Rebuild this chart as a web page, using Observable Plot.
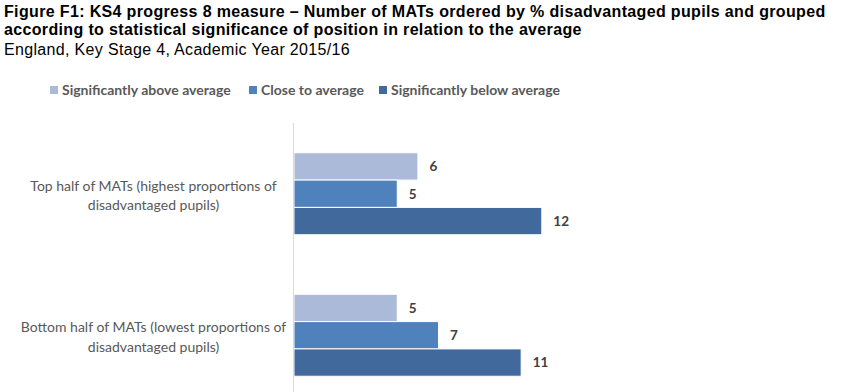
<!DOCTYPE html>
<html>
<head>
<meta charset="utf-8">
<script src="https://cdn.jsdelivr.net/npm/d3@7"></script>
<script src="https://cdn.jsdelivr.net/npm/@observablehq/plot@0.6"></script>
<style>
html, body { margin: 0; padding: 0; background: #fff; width: 850px; height: 392px; overflow: hidden; }
#title { position: absolute; left: 4px; top: 3px; font: bold 16px "Liberation Sans", Arial, sans-serif; letter-spacing: 0.35px; line-height: 18px; color: #000; white-space: nowrap; }
#subtitle { position: absolute; left: 4px; top: 41px; font: 16px "Liberation Sans", Arial, sans-serif; letter-spacing: 0.33px; line-height: 18px; color: #000; white-space: nowrap; }
.leg { position: absolute; top: 81px; font: bold 14px Lato, sans-serif; color: #595959; white-space: nowrap; line-height: 17px; }
.sw { position: absolute; width: 8px; height: 8px; top: 5px; left: -12px; }
#chart { position: absolute; left: 0; top: 105px; }
</style>
</head>
<body>
<div id="title"></div>
<div id="subtitle"></div>
<div id="legend"></div>
<div id="chart"></div>
<script>
const titleLines = ["Figure F1: KS4 progress 8 measure \u2013 Number of MATs ordered by % disadvantaged pupils and grouped", "according to statistical significance of position in relation to the average"];
const subtitle = "England, Key Stage 4, Academic Year 2015/16";
const groups = ["Top half of MATs (highest proportions of\ndisadvantaged pupils)", "Bottom half of MATs (lowest proportions of\ndisadvantaged pupils)"];
const series = ["Significantly above average", "Close to average", "Significantly below average"];
const colors = ["#abbad9", "#4f81bd", "#41699b"];
const topHalf = [6, 5, 12];
const bottomHalf = [5, 7, 11];

document.getElementById("title").innerHTML = titleLines.join("<br>");
document.getElementById("subtitle").textContent = subtitle;

const legendLeft = [62, 261, 391];
const legend = document.getElementById("legend");
series.forEach((s, i) => {
  const d = document.createElement("div");
  d.className = "leg";
  d.style.left = legendLeft[i] + "px";
  d.innerHTML = `<span class="sw" style="background:${colors[i]}"></span>${s}`;
  legend.appendChild(d);
});

const table = [];
[topHalf, bottomHalf].forEach((vals, gi) => {
  vals.forEach((v, si) => table.push({group: groups[gi], series: series[si], value: v}));
});

const chart = Plot.plot({
  width: 850,
  height: 301,
  marginLeft: 294,
  marginRight: 143,
  marginTop: 18,
  marginBottom: 0,
  style: {fontFamily: "Lato, sans-serif", background: "transparent"},
  x: {domain: [0, 20], axis: null},
  fy: {domain: groups, padding: 0, round: false, axis: null},
  y: {domain: series, paddingInner: 0, paddingOuter: 1.09, round: false, axis: null},
  color: {domain: series, range: colors},
  marks: [
    Plot.barX(table, {fy: "group", y: "series", x: "value", fill: "series", stroke: "white", strokeWidth: 1}),
    Plot.ruleX([0], {stroke: "#d9d9d9", strokeWidth: 1, dx: -1}),
    Plot.text(table, {fy: "group", y: "series", x: "value", text: d => String(d.value), dx: 11, textAnchor: "start", fontWeight: "bold", fontSize: 13.5, fill: "#404040"}),
    Plot.text(groups, {fy: d => d, text: d => d, frameAnchor: "left", dx: -141, textAnchor: "middle", lineHeight: 1.4, fontSize: 14, fill: "#595959"})
  ]
});
document.getElementById("chart").appendChild(chart);
</script>
</body>
</html>
